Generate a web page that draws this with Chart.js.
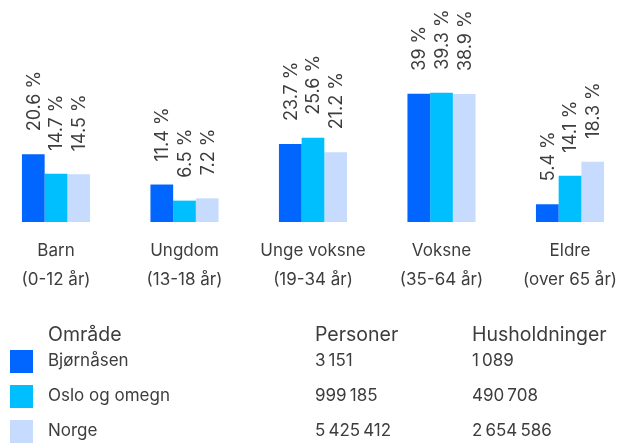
<!DOCTYPE html>
<html lang="no">
<head>
    <meta charset="UTF-8">
    <title>Aldersfordeling</title>
    <script src="https://cdn.jsdelivr.net/npm/chart.js"></script>
    <style>
        body {
            margin: 0;
            background: #ffffff;
            font-family: Inter, "Noto Sans", sans-serif;
            color: #3d3d3d;
        }
        .chart-box {
            position: absolute;
            left: 0;
            top: 0;
            width: 633px;
            height: 309px;
        }
        .legend {
            position: absolute;
            left: 0;
            top: 0;
            width: 633px;
            height: 444px;
        }
        .legend div {
            position: absolute;
            line-height: 1;
            white-space: nowrap;
        }
        .legend .head { font-size: 19.5px; }
        .legend .cell { font-size: 17px; }
        .legend .swatch { width: 23px; height: 23px; }
    </style>
</head>
<body>
    <div class="chart-box">
        <canvas id="ageChart"></canvas>
    </div>
    <div class="legend" id="legend"></div>

    <script>
        // categories (two-line tick labels)
        const categories = [
            ['Barn', '(0-12 år)'],
            ['Ungdom', '(13-18 år)'],
            ['Unge voksne', '(19-34 år)'],
            ['Voksne', '(35-64 år)'],
            ['Eldre', '(over 65 år)']
        ];

        // share of population, %
        const bjornasen = [20.6, 11.4, 23.7, 39, 5.4];
        const osloOgOmegn = [14.7, 6.5, 25.6, 39.3, 14.1];
        const norge = [14.5, 7.2, 21.2, 38.9, 18.3];

        // legend table
        const areaNames = ['Bjørnåsen', 'Oslo og omegn', 'Norge'];
        const personer = ['3\u2009151', '999\u2009185', '5\u2009425\u2009412'];
        const husholdninger = ['1\u2009089', '490\u2009708', '2\u2009654\u2009586'];
        const colors = ['#0066ff', '#00bfff', '#c6dbfd'];

        // rotated value labels above each bar
        const valueLabels = {
            id: 'valueLabels',
            afterDatasetsDraw(chart) {
                const c = chart.ctx;
                c.save();
                c.font = '18px Inter, "Noto Sans", sans-serif';
                c.fillStyle = '#3d3d3d';
                c.textAlign = 'left';
                c.textBaseline = 'middle';
                chart.data.datasets.forEach((ds, i) => {
                    chart.getDatasetMeta(i).data.forEach((bar, j) => {
                        c.save();
                        c.translate(bar.x + 1, bar.y - 23);
                        c.rotate(-Math.PI / 2);
                        c.fillText(ds.data[j] + ' %', 0, 0);
                        c.restore();
                    });
                });
                c.restore();
            }
        };

        const seriesData = [bjornasen, osloOgOmegn, norge];

        new Chart(document.getElementById('ageChart'), {
            type: 'bar',
            data: {
                labels: categories,
                datasets: seriesData.map((d, i) => ({
                    label: areaNames[i],
                    data: d,
                    backgroundColor: colors[i],
                    borderWidth: 0,
                    clip: false,
                    categoryPercentage: 0.53,
                    barPercentage: 1
                }))
            },
            options: {
                responsive: true,
                maintainAspectRatio: false,
                animation: false,
                layout: { padding: { left: 56, right: 63, top: 0, bottom: 0 } },
                plugins: {
                    legend: { display: false },
                    tooltip: { enabled: false }
                },
                scales: {
                    x: {
                        offset: false,
                        grid: { display: false, drawTicks: false },
                        border: { display: false },
                        ticks: {
                            color: '#3d3d3d',
                            font: { family: 'Inter, "Noto Sans", sans-serif', size: 17, lineHeight: 1.676 },
                            padding: 15,
                            maxRotation: 0,
                            autoSkip: false
                        }
                    },
                    y: {
                        display: false,
                        min: 0,
                        max: 67.5
                    }
                }
            },
            plugins: [valueLabels]
        });

        // legend table below the chart
        const legend = document.getElementById('legend');
        function addText(cls, text, left, top) {
            const el = document.createElement('div');
            el.className = cls;
            el.textContent = text;
            el.style.left = left + 'px';
            el.style.top = top + 'px';
            legend.appendChild(el);
        }
        addText('head', 'Område', 48, 325);
        addText('head', 'Personer', 315, 325);
        addText('head', 'Husholdninger', 472, 325);

        const rowTops = [352, 387, 422];
        areaNames.forEach((name, i) => {
            const sw = document.createElement('div');
            sw.className = 'swatch';
            sw.style.left = '10px';
            sw.style.top = (rowTops[i] - 2) + 'px';
            sw.style.background = colors[i];
            legend.appendChild(sw);
            addText('cell', name, 48, rowTops[i]);
            addText('cell', personer[i], 315, rowTops[i]);
            addText('cell', husholdninger[i], 472, rowTops[i]);
        });
    </script>
</body>
</html>
